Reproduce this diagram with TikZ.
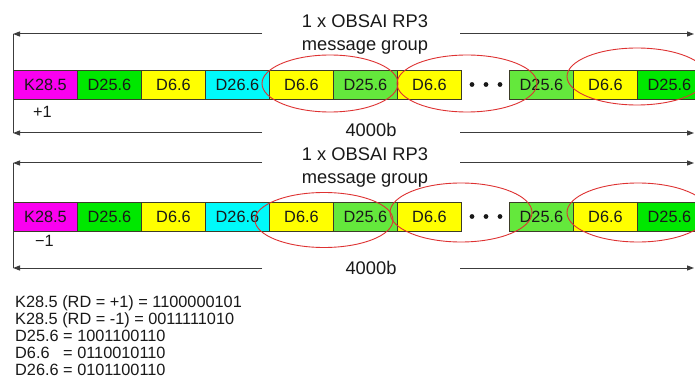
\documentclass[tikz,border=0pt]{standalone}
\usepackage{fontspec}
\setmainfont{Liberation Sans}
\usetikzlibrary{arrows.meta}
\definecolor{cmag}{RGB}{250,0,240}
\definecolor{cgreen}{RGB}{0,232,0}
\definecolor{clgreen}{RGB}{100,232,60}
\definecolor{cyel}{RGB}{255,255,0}
\definecolor{ccyan}{RGB}{0,250,250}
\definecolor{cedge}{RGB}{60,60,40}
\definecolor{cline}{RGB}{60,60,60}
\definecolor{cred}{RGB}{222,50,50}
\definecolor{ctxt}{RGB}{25,25,25}
\tikzset{
  cell/.style={draw=cedge, line width=0.9pt, minimum width=64pt, minimum height=29pt,
    inner sep=0pt, anchor=north west, text=ctxt, font=\fontsize{16.3}{16.3}\selectfont},
  dim/.style={draw=cline, line width=1pt, -{Triangle[length=7pt,width=5pt]}},
  plain/.style={draw=cline, line width=1pt},
  ring/.style={draw=cred, line width=0.9pt},
  head/.style={anchor=base, text=ctxt, inner sep=0pt, font=\fontsize{18.3}{18.3}\selectfont},
  small/.style={anchor=base west, text=ctxt, inner sep=0pt, font=\fontsize{16.3}{16.3}\selectfont},
  dotmark/.style={fill=ctxt}
}
\begin{document}
\begin{tikzpicture}[x=1pt,y=-1pt]
\useasboundingbox (0,0) rectangle (695,387);
\fill[white] (0,0) rectangle (695,387);

% ---------- Row 1 ----------
\node[cell, fill=cmag]    (a1)  at (13,70)  {K28.5};
\node[cell, fill=cgreen]  (a2)  at (77,70)  {D25.6};
\node[cell, fill=cyel]    (a3)  at (141,70) {D6.6};
\node[cell, fill=ccyan]   (a4)  at (205,70) {D26.6};
\node[cell, fill=cyel]    (a5)  at (269,70) {D6.6};
\node[cell, fill=clgreen] (a6)  at (333,70) {D25.6};
\node[cell, fill=cyel]    (a7)  at (397,70) {D6.6};
\node[cell, fill=clgreen] (a8)  at (509,70) {D25.6};
\node[cell, fill=cyel]    (a9)  at (573,70) {D6.6};
\node[cell, fill=cgreen]  (a10) at (637,70) {D25.6};
\fill[dotmark] (472,84.5) circle (2.4pt) (486,84.5) circle (2.4pt) (500,84.5) circle (2.4pt);

\node[head] (h1a) at (365,28) {1 x OBSAI RP3};
\node[head] (h1b) at (365,51) {message group};
\node[head] (len1) at (371,137) {4000b};
\node[small] (rd1) at (33,118) {+1};

\coordinate (t1l) at (13,34);
\coordinate (t1a) at (262,34);
\coordinate (t1b) at (460,34);
\coordinate (t1r) at (694,34);
\coordinate (b1l) at (13,133);
\coordinate (b1a) at (262,133);
\coordinate (b1b) at (460,133);
\coordinate (b1r) at (694,133);
\draw[dim] (t1a) -- (t1l);
\draw[dim] (t1b) -- (t1r);
\draw[dim] (b1a) -- (b1l);
\draw[dim] (b1b) -- (b1r);
\draw[plain] (t1l) -- (b1l);

\draw[ring] (330,83.5) ellipse [x radius=68pt, y radius=28.5pt];
\draw[ring] (467,83.5) ellipse [x radius=70pt, y radius=28.5pt];
\draw[ring] (637,76.5) ellipse [x radius=70pt, y radius=28.5pt];

% ---------- Row 2 ----------
\node[cell, fill=cmag]    (c1)  at (13,202)  {K28.5};
\node[cell, fill=cgreen]  (c2)  at (77,202)  {D25.6};
\node[cell, fill=cyel]    (c3)  at (141,202) {D6.6};
\node[cell, fill=ccyan]   (c4)  at (205,202) {D26.6};
\node[cell, fill=cyel]    (c5)  at (269,202) {D6.6};
\node[cell, fill=clgreen] (c6)  at (333,202) {D25.6};
\node[cell, fill=cyel]    (c7)  at (397,202) {D6.6};
\node[cell, fill=clgreen] (c8)  at (509,202) {D25.6};
\node[cell, fill=cyel]    (c9)  at (573,202) {D6.6};
\node[cell, fill=cgreen]  (c10) at (637,202) {D25.6};
\fill[dotmark] (472,216.5) circle (2.4pt) (486,216.5) circle (2.4pt) (500,216.5) circle (2.4pt);

\node[head] (h2a) at (365,161) {1 x OBSAI RP3};
\node[head] (h2b) at (365,184) {message group};
\node[head] (len2) at (371,274) {4000b};
\node[small] (rd2) at (35,246) {−1};

\coordinate (t2l) at (13,163);
\coordinate (t2a) at (262,163);
\coordinate (t2b) at (460,163);
\coordinate (t2r) at (694,163);
\coordinate (b2l) at (13,268);
\coordinate (b2a) at (262,268);
\coordinate (b2b) at (460,268);
\coordinate (b2r) at (694,268);
\draw[dim] (t2a) -- (t2l);
\draw[dim] (t2b) -- (t2r);
\draw[dim] (b2a) -- (b2l);
\draw[dim] (b2b) -- (b2r);
\draw[plain] (t2l) -- (b2l);

\draw[ring] (324,220) ellipse [x radius=69pt, y radius=27.5pt];
\draw[ring] (461,212.5) ellipse [x radius=71pt, y radius=29.5pt];
\draw[ring] (638,212.5) ellipse [x radius=71pt, y radius=29.5pt];

% ---------- Code table ----------
\node[small] (k1) at (15,307) {K28.5 (RD = +1) = 1100000101};
\node[small] (k2) at (15,324) {K28.5 (RD = -1) = 0011111010};
\node[small] (k3) at (15,341) {D25.6 = 1001100110};
\node[small] (k4) at (15,358) {D6.6\hphantom{0} = 0110010110};
\node[small] (k5) at (15,375) {D26.6 = 0101100110};
\end{tikzpicture}
\end{document}
